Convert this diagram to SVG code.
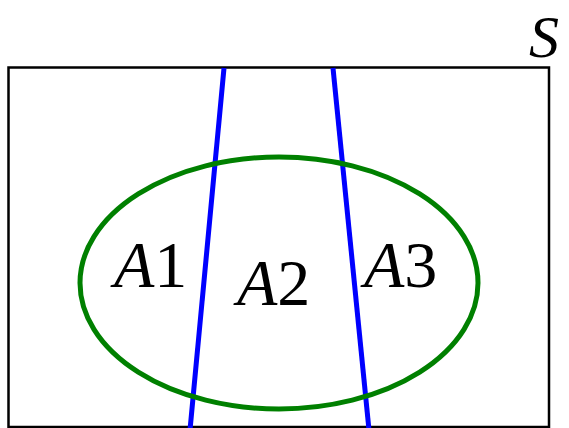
<svg xmlns="http://www.w3.org/2000/svg" width="569" height="428" viewBox="0 0 569 428">
<style>
.lbl{font-family:"Liberation Serif","DejaVu Serif",serif;font-size:66px;fill:#000}
.it{font-style:italic}
.s{font-size:60px}
.set{fill:none;stroke:#000;stroke-width:2.5}
.part{stroke:#0000ff;stroke-width:5;fill:none}
.ev{fill:none;stroke:#008000;stroke-width:5}
</style>
<rect width="569" height="428" fill="#fff"/>
<g id="S">
<rect class="set" x="8.5" y="67.5" width="540.5" height="359.5"/>
<text class="lbl it s" x="529" y="57">S</text>
</g>
<g id="connectors">
<line class="part" x1="224" y1="68" x2="190" y2="430"/>
<line class="part" x1="333" y1="68" x2="369" y2="430"/>
</g>
<g id="B">
<ellipse class="ev" cx="279" cy="283" rx="199" ry="126"/>
</g>
<g id="A1"><text class="lbl" x="114" y="287"><tspan class="it">A</tspan>1</text></g>
<g id="A2"><text class="lbl" x="237" y="305"><tspan class="it">A</tspan>2</text></g>
<g id="A3"><text class="lbl" x="364" y="287"><tspan class="it">A</tspan>3</text></g>
</svg>
